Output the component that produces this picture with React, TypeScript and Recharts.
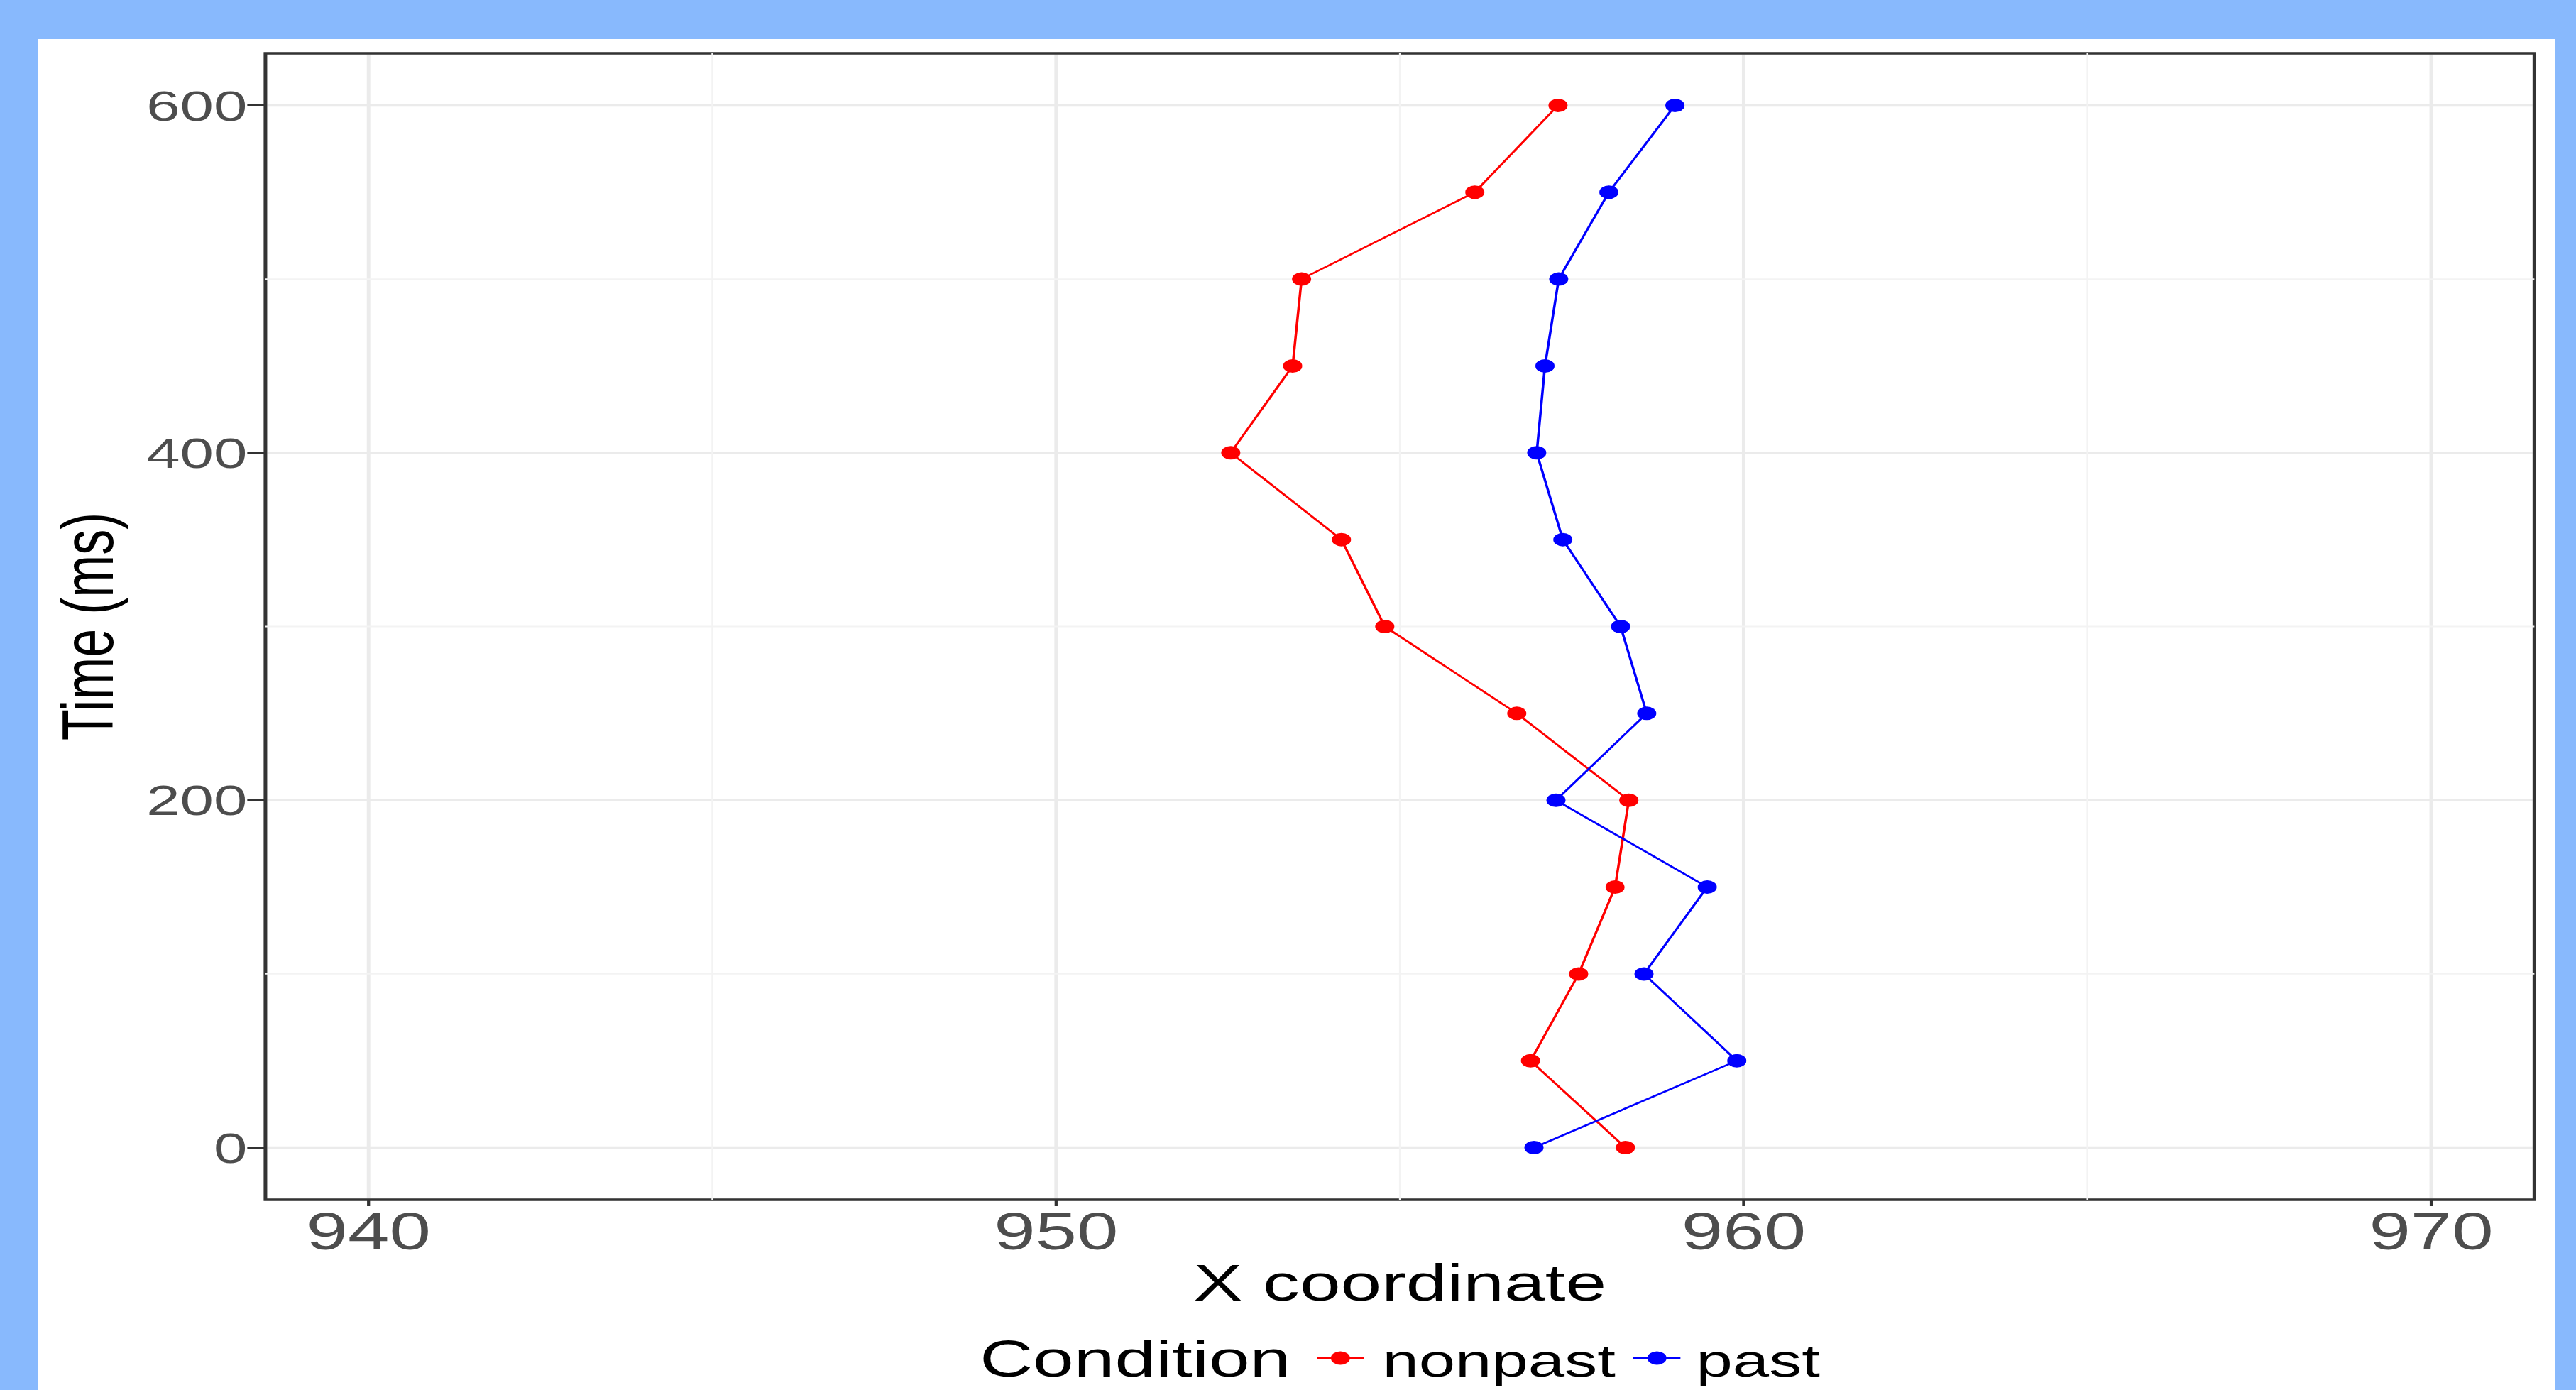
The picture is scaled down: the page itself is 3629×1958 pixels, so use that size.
import React from 'react';
import {
  ScatterChart,
  Scatter,
  XAxis,
  YAxis,
  CartesianGrid,
  ReferenceLine,
  ReferenceArea,
  Legend,
} from 'recharts';

// ---- data ----
const times = [0, 50, 100, 150, 200, 250, 300, 350, 400, 450, 500, 550, 600];
const nonpastX = [958.28, 956.9, 957.6, 958.13, 958.33, 956.7, 954.78, 954.15, 952.54, 953.44, 953.57, 956.09, 957.3];
const pastX = [956.95, 959.9, 958.55, 959.47, 957.27, 958.59, 958.21, 957.37, 956.99, 957.11, 957.31, 958.04, 959.0];
const xTicks = [940, 950, 960, 970];
const yTicks = [0, 200, 400, 600];
const xMinor = [945, 955, 965];
const yMinor = [100, 300, 500];
const xDomain = [938.5, 971.5];
const yDomain = [-30, 630];
const seriesNames = ['nonpast', 'past'];
const seriesColors = ['red', 'blue'];
const legendTitle = 'Condition';
const xTitle = 'X coordinate';
const yTitle = 'Time (ms)';

const nonpastData = times.map((t, i) => ({ x: nonpastX[i], t }));
const pastData = times.map((t, i) => ({ x: pastX[i], t }));
const seriesData = [nonpastData, pastData];

// ---- layout ----
const FONT = '"Liberation Sans", Arial, Helvetica, sans-serif';
const STRETCH = 1.42;
const CARD_W = 3547;
const CARD_H = 1903;
const CHART_W = Math.round(CARD_W / STRETCH);
const DOT_R = 9.5;

const makeDot = (color: string) => (props: any) => (
  <circle cx={props.cx} cy={props.cy} r={DOT_R} fill={color} />
);

const renderLegend = (props: any) => {
  const payload: any[] = props.payload || [];
  return (
    <div
      style={{
        display: 'flex',
        justifyContent: 'center',
        alignItems: 'baseline',
        height: 70,
        fontFamily: FONT,
        color: '#000',
        whiteSpace: 'nowrap',
      }}
    >
      <span style={{ fontSize: 73, lineHeight: '70px', marginRight: 26 }}>{legendTitle}</span>
      {payload.map((p: any, i: number) => (
        <React.Fragment key={i}>
          <svg width={47} height={52} style={{ marginRight: i === 0 ? 18 : 15 }}>
            <line x1={0} x2={47} y1={26} y2={26} stroke={p.color} strokeWidth={2.5} />
            <circle cx={23.5} cy={26} r={DOT_R} fill={p.color} />
          </svg>
          <span style={{ fontSize: 65, lineHeight: '70px', marginRight: i < payload.length - 1 ? 18 : 0 }}>
            {p.value}
          </span>
        </React.Fragment>
      ))}
    </div>
  );
};

export default function App() {
  return (
    <div
      style={{
        position: 'absolute',
        left: 0,
        top: 0,
        width: 3629,
        height: 1958,
        background: '#88B9FD',
        overflow: 'hidden',
      }}
    >
      <div
        style={{
          position: 'absolute',
          left: 53,
          top: 55,
          width: CARD_W,
          height: CARD_H,
          background: '#FFFFFF',
          overflow: 'hidden',
        }}
      >
        <div
          style={{
            width: CHART_W,
            height: CARD_H,
            transform: `scaleX(${STRETCH})`,
            transformOrigin: '0 0',
          }}
        >
          <ScatterChart
            width={CHART_W}
            height={CARD_H}
            margin={{ top: 20, right: CHART_W - 2477, bottom: 0, left: 0 }}
          >
            <CartesianGrid stroke="#EBEBEB" strokeWidth={3.5} />
            {xMinor.map((v) => (
              <ReferenceLine key={'xm' + v} x={v} stroke="#F3F3F3" strokeWidth={1.8} />
            ))}
            {yMinor.map((v) => (
              <ReferenceLine key={'ym' + v} y={v} stroke="#F3F3F3" strokeWidth={1.8} />
            ))}
            <XAxis
              type="number"
              dataKey="x"
              domain={xDomain}
              ticks={xTicks}
              interval={0}
              height={198}
              tickSize={9}
              tickMargin={8}
              axisLine={false}
              tickLine={{ stroke: '#333333', strokeWidth: 3 }}
              tick={{ fontSize: 74, fill: '#4D4D4D', fontFamily: FONT }}
              label={{
                value: xTitle,
                position: 'insideBottom',
                offset: 56,
                style: { fontSize: 73, fill: '#000000', fontFamily: FONT },
              }}
            />
            <YAxis
              type="number"
              dataKey="t"
              domain={yDomain}
              ticks={yTicks}
              interval={0}
              width={226}
              tickSize={18}
              tickMargin={0}
              axisLine={false}
              tickLine={{ stroke: '#333333', strokeWidth: 3 }}
              tick={{ fontSize: 60, fill: '#4D4D4D', fontFamily: FONT }}
              label={{
                value: yTitle,
                angle: -90,
                position: 'insideLeft',
                offset: 49,
                style: { fontSize: 72, fill: '#000000', fontFamily: FONT, textAnchor: 'middle' },
              }}
            />
            <ReferenceArea
              x1={xDomain[0]}
              x2={xDomain[1]}
              y1={yDomain[0]}
              y2={yDomain[1]}
              fill="none"
              stroke="#333333"
              strokeWidth={3.5}
              ifOverflow="visible"
            />
            {seriesNames.map((name, i) => (
              <Scatter
                key={name}
                name={name}
                data={seriesData[i]}
                fill={seriesColors[i]}
                line={{ stroke: seriesColors[i], strokeWidth: 2.5 }}
                shape={makeDot(seriesColors[i])}
                isAnimationActive={false}
              />
            ))}
            <Legend
              verticalAlign="bottom"
              align="center"
              content={renderLegend}
              wrapperStyle={{ left: 226, width: 2251, bottom: 9, height: 70 }}
            />
          </ScatterChart>
        </div>
      </div>
    </div>
  );
}
